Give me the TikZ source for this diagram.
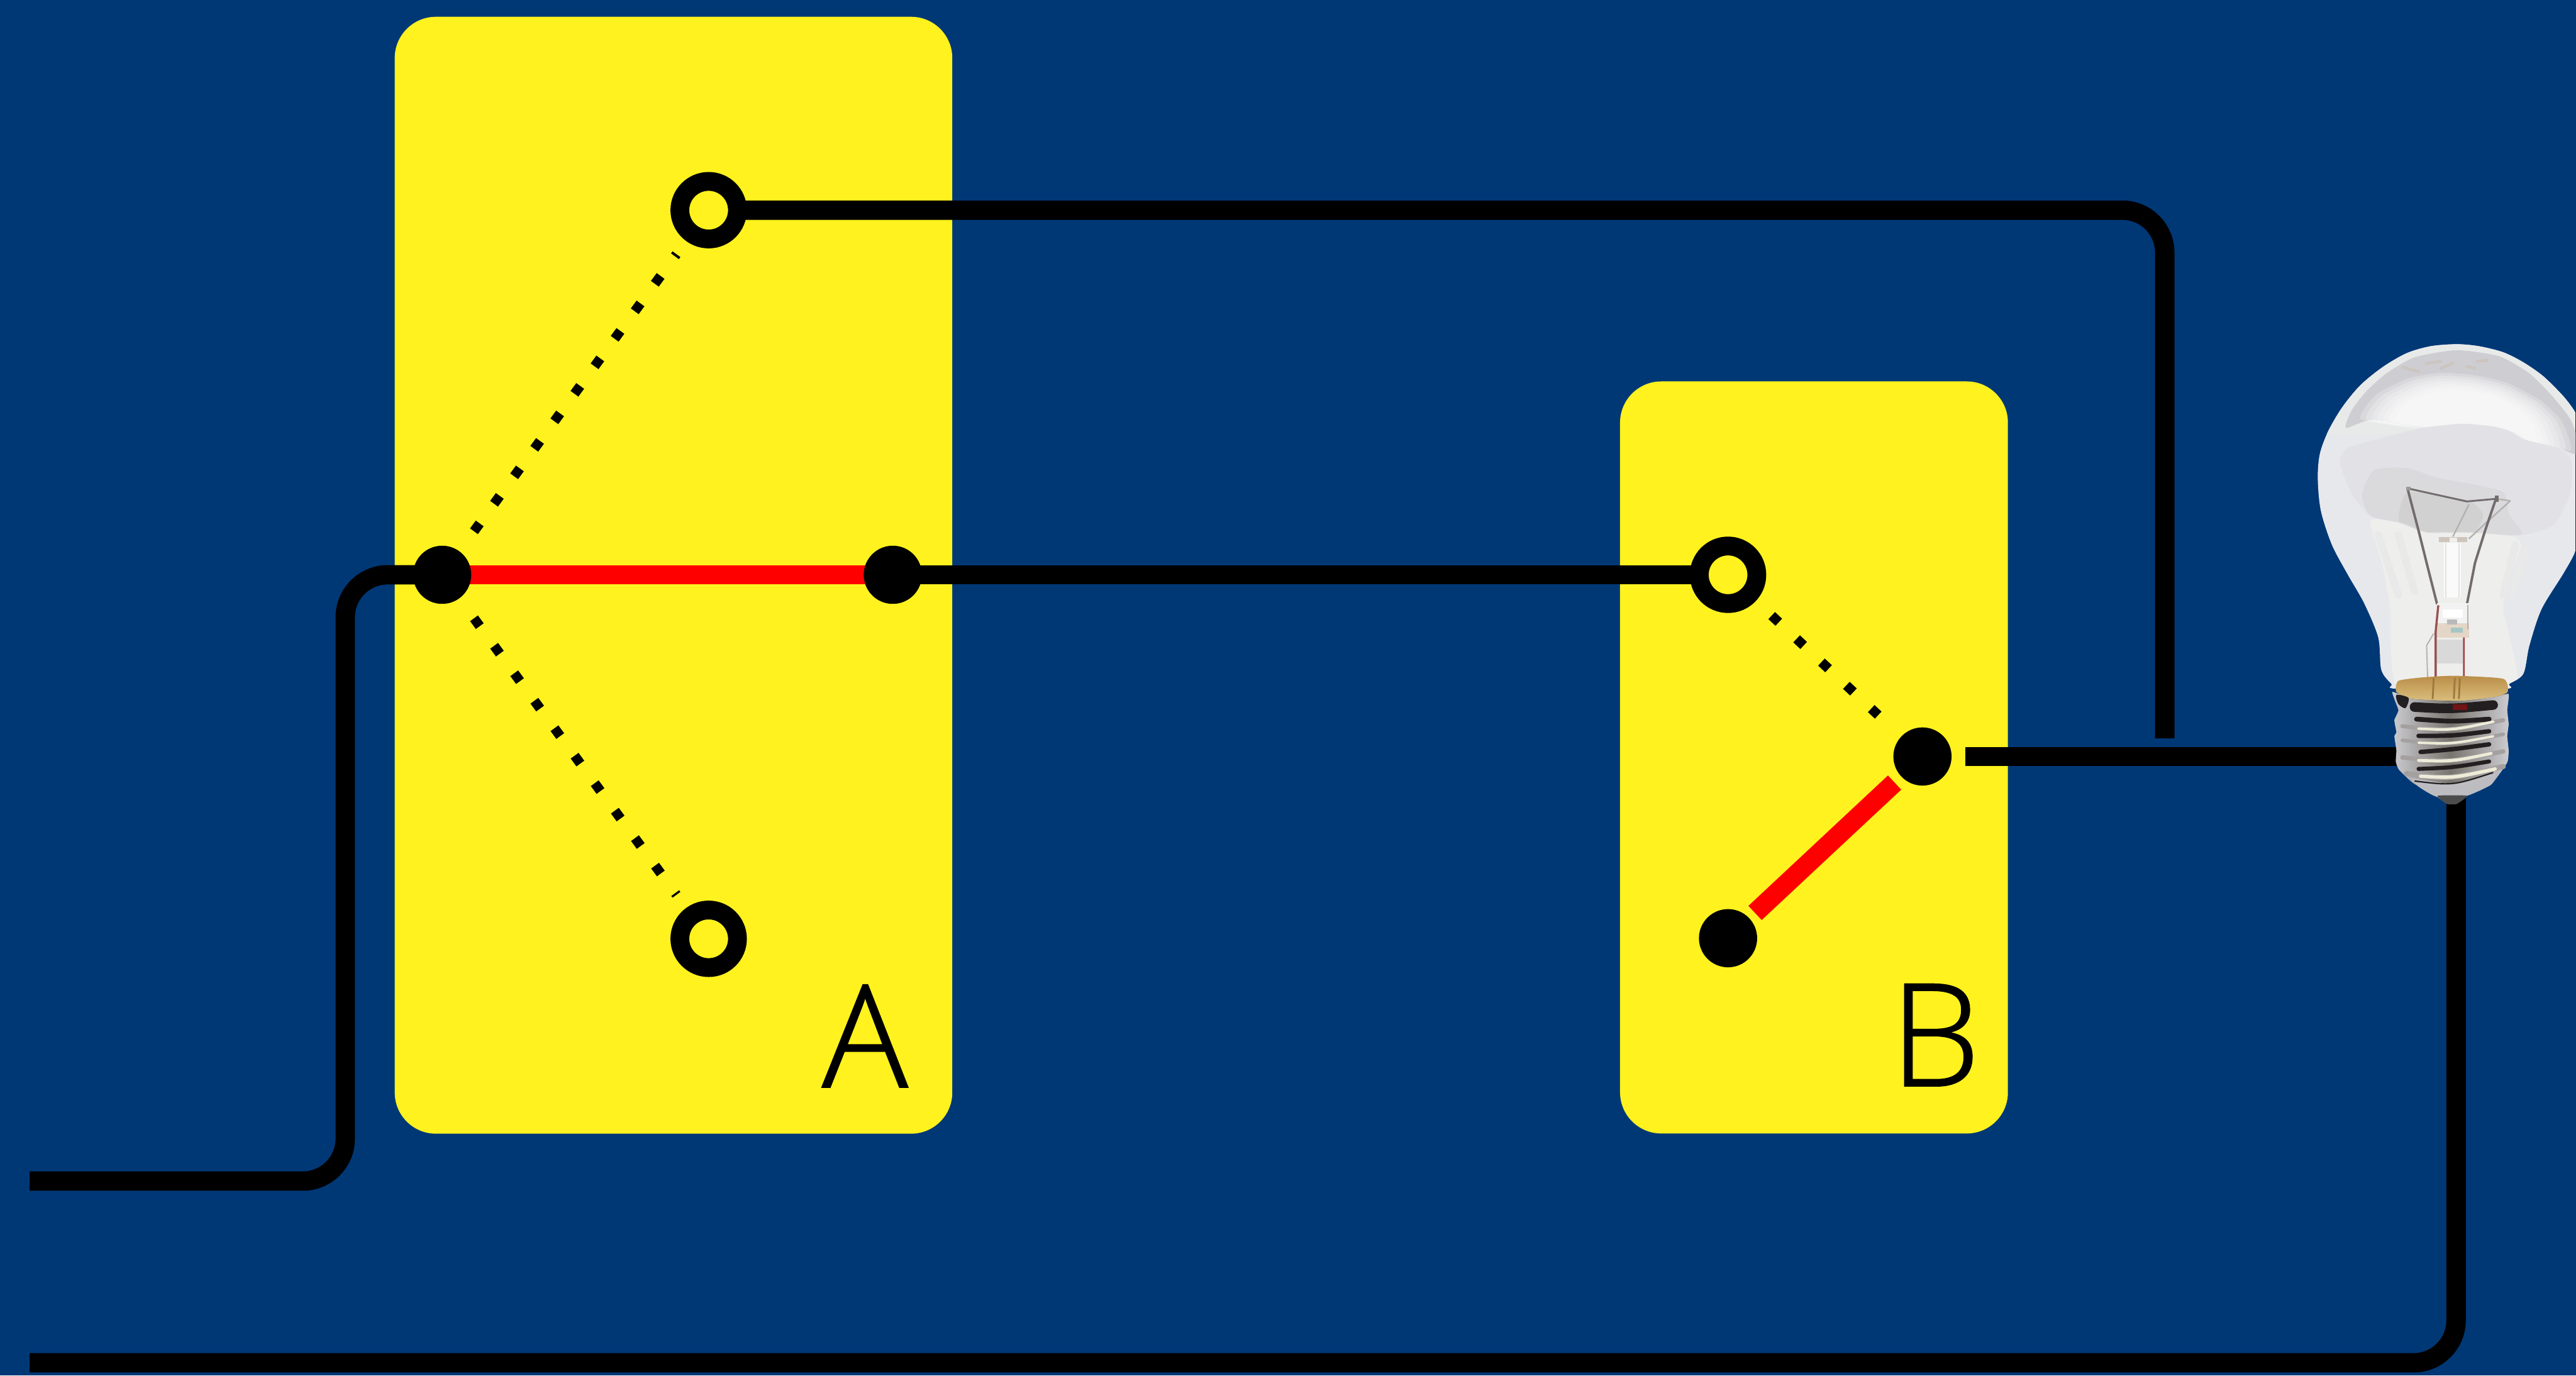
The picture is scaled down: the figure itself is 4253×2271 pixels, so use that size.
\documentclass[tikz,border=0pt]{standalone}
\usepackage{fontspec}
\setmainfont{Open Sans}[UprightFont={* Light},UprightFeatures={FakeBold=1.0}]
\usetikzlibrary{calc}
\definecolor{bgblue}{RGB}{0,56,118}
\definecolor{boxyellow}{RGB}{255,242,30}
\definecolor{glassA}{RGB}{231,232,236}
\definecolor{glassDome}{RGB}{206,206,210}
\definecolor{glassRim}{RGB}{232,234,234}
\definecolor{glassHiA}{RGB}{218,218,222}
\definecolor{glassMid}{RGB}{225,225,230}
\definecolor{glassCore}{RGB}{218,218,221}
\definecolor{glassCoreB}{RGB}{209,209,210}
\definecolor{glassLow}{RGB}{238,238,236}
\definecolor{wireDk}{RGB}{115,108,108}
\definecolor{wireLt}{RGB}{180,178,175}
\definecolor{gold}{RGB}{186,142,72}
\definecolor{goldB}{RGB}{218,190,125}
\definecolor{metalE}{RGB}{205,205,210}
\definecolor{metalM}{RGB}{120,116,110}
\definecolor{threadDk}{RGB}{35,30,32}
\definecolor{threadLt}{RGB}{238,236,216}
\definecolor{threadMid}{RGB}{165,160,160}
\pgfdeclarelayer{boxes}
\pgfdeclarelayer{wires}
\pgfsetlayers{boxes,wires,main}
\tikzset{
  switchbox/.style={fill=boxyellow,draw=none,rounded corners=0.68cm,inner sep=0,anchor=north west},
  wire/.style={draw=black,line width=0.32cm},
  roundwire/.style={wire,rounded corners=0.70cm},
  contact/.style={circle,fill=black,draw=none,inner sep=0,minimum size=0.96cm},
  ring/.style={circle,fill=boxyellow,draw=black,line width=0.31cm,inner sep=0,minimum size=0.95cm},
  live/.style={draw=red,line width=0.32cm},
  dotline/.style={draw=black,line width=0.16cm,dash pattern=on 0.16cm off 0.402cm},
  swlabel/.style={inner sep=0,anchor=base,font=\fontsize{67pt}{67pt}\selectfont},
}
\begin{document}
\begin{tikzpicture}[x=0.01cm,y=-0.01cm]
\useasboundingbox (0,0) rectangle (4253,2271);

% switch boxes
\begin{pgfonlayer}{boxes}
\fill[bgblue] (0,0) rectangle (4253,2271);
\node[switchbox,minimum width=9.20cm,minimum height=18.43cm] (boxA) at (651,27) {};
\node[switchbox,minimum width=6.40cm,minimum height=12.41cm] (boxB) at (2674,629) {};
\end{pgfonlayer}

% terminals
\node[contact] (aCom) at (730,949) {};
\node[contact] (aOut) at (1474,949) {};
\node[ring] (aTop) at (1170,347) {};
\node[ring] (aBot) at (1170,1550) {};
\node[ring] (bTop) at (2853,949) {};
\node[contact] (bCom) at (3174,1249) {};
\node[contact] (bBot) at (2853,1549) {};

% free ends
\coordinate (lineStart) at (49,1950);
\coordinate (lineCorner) at (570,1950);
\coordinate (lineBend) at (570,949);
\coordinate (topCorner) at (3574,347);
\coordinate (topEnd) at (3574,1219);
\coordinate (lampIn) at (3245,1249);
\coordinate (lampInEnd) at (3960,1249);
\coordinate (retStart) at (49,2250);
\coordinate (retCorner) at (4055,2250);
\coordinate (retEnd) at (4055,1300);

% wires
\begin{pgfonlayer}{wires}
\draw[roundwire] (lineStart) -- (lineCorner) -- (lineBend) -- (aCom.center);
\draw[roundwire] (aTop.center) -- (topCorner) -- (topEnd);
\draw[wire] (aOut.center) -- (bTop.center);
\draw[wire] (lampIn) -- (lampInEnd);
\draw[roundwire] (retStart) -- (retCorner) -- (retEnd);
\draw[live] (aCom.center) -- (aOut.center);
\end{pgfonlayer}

\draw[live,shorten <=0.63cm,shorten >=0.61cm] (bCom.center) -- (bBot.center);
\draw[dotline,shorten <=0.89cm,shorten >=0.90cm] (aCom.center) -- (aTop.center);
\draw[dotline,shorten <=0.89cm,shorten >=0.90cm] (aCom.center) -- (aBot.center);
\draw[dotline,shorten <=0.986cm,shorten >=1.00cm] (bTop.center) -- (bCom.center);

\node[swlabel] (labelA) at (1428,1795) {A};
\node[swlabel] (labelB) at (3195,1793) {B};

% lamp, drawn directly (coordinates are 1/3 px from (3800,550))
\begin{scope}[shift={(3800,550)},x=0.003333cm,y=-0.003333cm]
\clip (-100,-100) rectangle (1359,2400);
\begin{scope}
\clip plot[smooth cycle,tension=0.5] coordinates {(770,55)(640,65)(520,100)(400,170)(290,260)(200,370)(130,490)(90,600)(80,720)(95,880)(150,1050)(230,1200)(310,1340)(380,1510)(395,1670)(445,1740)(480,1765)(1000,1765)(1030,1740)(1100,1690)(1130,1550)(1190,1370)(1300,1190)(1359,1080)(1420,900)(1450,700)(1410,490)(1359,395)(1300,315)(1200,215)(1100,145)(1000,95)(880,65)};
\fill[glassA] (0,0) rectangle (1359,1810);
\fill[glassRim] (0,0) rectangle (1359,500);
\fill[glassDome] plot[smooth cycle,tension=0.4] coordinates {(220,470)(250,380)(320,290)(420,200)(560,120)(770,85)(980,115)(1130,200)(1250,320)(1340,440)(1380,600)(1270,570)(1110,530)(1040,490)(960,465)(800,450)(600,470)(350,430)};
% faint marks at top of dome
\foreach \a/\b/\c/\d in {500/170/580/190,620/150/690/140,690/175/750/150,820/165/860/175,870/140/920/135}
  \draw[line width=0.05cm,color=glassDome!88!brown,line cap=round] (\a,\b) -- (\c,\d);
% soft highlight, built from nested veils
\foreach \s in {1.12,1.06,1.0,0.94,0.88,0.82,0.76}
  \fill[white,opacity=0.24,shift={(820,460)},scale=\s] plot[smooth cycle,tension=0.35] coordinates {(-470,-30)(-400,-140)(-260,-210)(-120,-235)(30,-225)(180,-190)(330,-110)(420,-20)(460,110)(290,70)(220,30)(140,5)(-20,-10)(-220,10)};
\fill[glassMid] plot[smooth cycle,tension=0.4] coordinates {(190,640)(230,570)(400,520)(600,470)(800,450)(960,465)(1040,490)(1110,530)(1270,570)(1340,640)(1330,800)(1250,950)(1100,1000)(850,990)(620,990)(480,940)(340,905)(250,800)};
\fill[glassCore] plot[smooth cycle,tension=0.4] coordinates {(340,905)(300,800)(360,680)(520,670)(680,720)(850,750)(1000,790)(1030,900)(1090,1000)(850,990)(620,990)(480,940)};
\fill[glassCoreB] plot[smooth cycle,tension=0.4] coordinates {(530,790)(820,830)(900,900)(860,985)(800,985)(620,985)(530,950)(480,925)};
\fill[glassLow] plot[smooth cycle,tension=0.3] coordinates {(340,930)(480,940)(620,990)(850,990)(1050,1010)(1090,1050)(1040,1200)(1000,1370)(1060,1760)(480,1760)(440,1370)(400,1150)};
% soft streaks in lower glass
\foreach \a/\b/\c/\d in {380/1000/480/1300,480/1000/560/1280,1060/1050/1000/1300,1110/1060/1050/1290}
  \draw[line width=0.12cm,color=glassMid!35!glassLow,line cap=round] (\a,\b) -- (\c,\d);
% stem glass
\fill[white!96!gray] (705,1040) rectangle (790,1310);
\draw[line width=0.025cm,color=glassMid] (715,1040) -- (715,1310) (780,1040) -- (780,1310);
% filament supports
\draw[line width=0.025cm,color=wireLt] (830,850) -- (750,1010);
\draw[line width=0.025cm,color=wireLt] (1035,832) -- (905,950) -- (830,1020);
\draw[line width=0.025cm,color=wireLt] (965,822) -- (1035,832);
\fill[glassCoreB!85!brown] (680,1012) rectangle (822,1038);
\fill[glassLow] (735,1015) rectangle (770,1036);
\draw[line width=0.03cm,color=wireDk] (525,770) -- (820,835) -- (965,822);
\draw[line width=0.04cm,color=wireDk] (525,770) -- (580,980) -- (620,1140) -- (672,1345);
\draw[line width=0.04cm,color=wireDk] (968,810) -- (910,980) -- (860,1140) -- (820,1345);
\fill[wireDk!70!white] (518,762) rectangle (540,780);
\fill[wireDk] (958,805) rectangle (978,838);
% lower part: coordinates of the second crop
\begin{scope}[shift={(300,1350)}]
% bead
\fill[white!90!gray] (370,-10) rectangle (530,150);
\fill[glassLow!78!brown] (370,90) rectangle (530,160);
\fill[gray!55!white] (420,70) rectangle (470,95);
\fill[gray!45!teal!45!white] (440,110) rectangle (500,135);
\fill[white] (400,20) rectangle (500,60);
\fill[gray!30!white] (370,170) rectangle (500,290);
\draw[line width=0.035cm,color=wireDk!75!red] (378,0) -- (365,130) -- (365,360) -- (350,460);
\draw[line width=0.03cm,color=wireDk!65!red] (505,160) -- (505,350) -- (490,460);
\draw[line width=0.02cm,color=wireLt] (525,0) -- (525,120);
\draw[line width=0.02cm,color=wireLt] (355,140) -- (320,200) -- (325,360);
\end{scope}
\end{scope}
\begin{scope}[shift={(300,1350)}]
% gold seal
\shade[top color=gold,bottom color=goldB] plot[smooth cycle,tension=0.35] coordinates {(180,375)(300,358)(460,350)(700,365)(722,430)(660,455)(480,475)(250,465)(170,430)};
\foreach \a in {350,455,480}
  \draw[line width=0.03cm,color=gold!85!black] (\a+5,360) -- (\a,465);
% metal screw base
\shade[left color=metalE,right color=metalE,middle color=metalM] plot[smooth cycle,tension=0.25] coordinates {(150,430)(180,520)(160,570)(170,630)(160,650)(170,720)(167,775)(182,815)(250,880)(370,950)(420,985)(470,985)(520,945)(640,890)(720,780)(727,720)(720,650)(727,590)(720,520)(727,440)(660,455)(480,475)(250,465)};
% bottom contact
\fill[metalE!92!black] plot[smooth cycle,tension=0.3] coordinates {(250,860)(450,885)(660,830)(640,890)(520,945)(370,950)(280,900)};
\fill[black!70!white] plot[smooth cycle,tension=0.3] coordinates {(375,945)(520,945)(470,985)(420,985)};
% threads
\foreach \ax/\ay/\bx/\by/\cx/\cy/\w in {
  200/600/430/625/700/570/20,
  200/670/430/695/700/640/18,
  200/755/430/780/700/725/22,
  220/835/430/865/700/800/26}
  \draw[line width=\w*0.0033cm,color=threadMid,line cap=round] (\ax,\ay) .. controls (\bx,\by) .. (\cx,\cy);
\foreach \ax/\ay/\bx/\by/\cx/\cy/\w in {
  260/505/440/515/650/495/48,
  270/565/450/578/630/565/24,
  280/648/450/648/630/625/22,
  290/728/450/715/630/690/22,
  280/812/450/805/630/775/20}
  \draw[line width=\w*0.0033cm,color=threadDk,line cap=round] (\ax,\ay) .. controls (\bx,\by) .. (\cx,\cy);
\foreach \ax/\ay/\bx/\by/\cx/\cy/\w in {
  280/612/450/620/650/578/13,
  280/682/450/688/650/650/12,
  280/770/450/775/640/735/15,
  290/848/450/858/660/812/17}
  \draw[line width=\w*0.0033cm,color=threadLt,line cap=round] (\ax,\ay) .. controls (\bx,\by) .. (\cx,\cy);
\draw[line width=7*0.0033cm,color=threadDk] (260,872) .. controls (450,895) .. (650,830);
\draw[line width=30*0.0033cm,color=red!35!threadDk] (450,505) -- (520,505);
\fill[threadDk] plot[smooth cycle] coordinates {(170,445)(230,460)(215,510)(180,490)};
\end{scope}
\end{scope}
\end{tikzpicture}
\end{document}
